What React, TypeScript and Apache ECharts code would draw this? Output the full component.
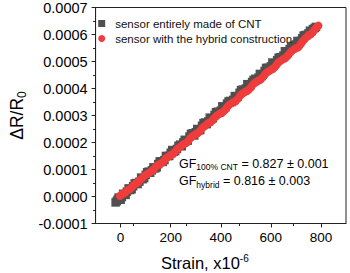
import React, { useEffect, useRef } from "react";
import * as echarts from "echarts";

// Strain (x10^-6) and ΔR/R0 (in units of 1e-6)
const strainCNT = [-20, -15, -12, -8, -5, 0, 5, 10, 15, 20, 25, 32, 38, 44, 50, 56, 62, 68, 75, 82, 88, 94, 100, 106, 112, 118, 125, 131, 138, 144, 150, 156, 162, 168, 175, 181, 188, 194, 200, 206, 212, 218, 225, 231, 238, 244, 250, 256, 262, 268, 275, 281, 288, 294, 300, 306, 312, 318, 325, 331, 338, 344, 350, 356, 362, 368, 375, 381, 388, 394, 400, 406, 412, 418, 425, 431, 438, 444, 450, 456, 462, 468, 475, 481, 488, 494, 500, 506, 512, 518, 525, 531, 538, 544, 550, 556, 562, 568, 575, 581, 588, 594, 600, 606, 612, 618, 625, 631, 638, 644, 650, 656, 662, 668, 675, 681, 688, 694, 700, 706, 712, 718, 725, 731, 738, 744, 750, 756, 762, 768, 775, 780];
const drCNTppm = [-22, -17, -12, -4, -6, -12, -2, 10, 8, 6, 18, 30, 24, 27, 38, 48, 50, 46, 55, 70, 64, 68, 80, 90, 92, 88, 97, 108, 104, 108, 120, 130, 130, 128, 135, 150, 150, 150, 162, 172, 166, 168, 176, 188, 192, 186, 200, 210, 206, 207, 222, 232, 234, 226, 238, 250, 246, 246, 262, 272, 274, 268, 278, 292, 286, 290, 302, 312, 314, 310, 318, 334, 326, 330, 344, 352, 354, 350, 358, 372, 368, 370, 384, 394, 396, 392, 400, 416, 408, 412, 424, 432, 436, 432, 440, 454, 448, 452, 465, 476, 477, 474, 482, 496, 490, 494, 505, 514, 516, 516, 522, 538, 530, 534, 546, 556, 558, 556, 563, 576, 570, 576, 586, 596, 598, 598, 604, 614, 612, 620, 624, 628];

const strainHybrid = [-3, 2, 8, 14, 20, 26, 32, 38, 45, 52, 58, 64, 70, 76, 82, 88, 95, 101, 108, 114, 120, 126, 132, 138, 145, 151, 158, 164, 170, 176, 182, 188, 195, 201, 208, 214, 220, 226, 232, 238, 245, 251, 258, 264, 270, 276, 282, 288, 295, 301, 308, 314, 320, 326, 332, 338, 345, 351, 358, 364, 370, 376, 382, 388, 395, 401, 408, 414, 420, 426, 432, 438, 445, 451, 458, 464, 470, 476, 482, 488, 495, 501, 508, 514, 520, 526, 532, 538, 545, 551, 558, 564, 570, 576, 582, 588, 595, 601, 608, 614, 620, 626, 632, 638, 645, 651, 658, 664, 670, 676, 682, 688, 695, 701, 708, 714, 720, 726, 732, 738, 745, 751, 758, 764, 770, 776, 782, 786, 790];
const drHybridppm = [2, 6, 10, 12, 16, 22, 24, 28, 34, 42, 46, 50, 52, 60, 64, 70, 78, 80, 84, 88, 92, 96, 100, 108, 114, 118, 120, 124, 128, 136, 142, 146, 150, 154, 156, 162, 168, 176, 180, 184, 190, 194, 196, 200, 206, 214, 220, 224, 228, 232, 234, 240, 246, 254, 258, 262, 268, 272, 274, 280, 286, 292, 298, 302, 306, 310, 312, 318, 324, 332, 338, 342, 346, 350, 352, 358, 364, 372, 378, 382, 386, 390, 392, 398, 404, 412, 418, 422, 426, 430, 432, 438, 444, 452, 458, 462, 466, 470, 472, 478, 484, 492, 498, 502, 506, 510, 512, 518, 524, 532, 538, 542, 546, 550, 552, 558, 566, 574, 580, 586, 592, 598, 600, 606, 612, 620, 626, 630, 633];

const seriesNames = ["sensor entirely made of CNT", "sensor with the hybrid construction"];
const xMajorTicks = [0, 200, 400, 600, 800];
const xMinorTicks = [100, 300, 500, 700];
const gfLines = [
  { sub: "100% CNT", text: " = 0.827 ± 0.001" },
  { sub: "hybrid", text: " = 0.816 ± 0.003" },
];

const GRAY = "#505050";
const RED = "#f03c3c";

export default function App() {
  const ref = useRef<HTMLDivElement>(null);
  useEffect(() => {
    if (!ref.current) return;
    const chart = echarts.init(ref.current, null, { renderer: "svg" });
    const cnt = strainCNT.map((x, i) => [x, drCNTppm[i] * 1e-6]);
    const hyb = strainHybrid.map((x, i) => [x, drHybridppm[i] * 1e-6]);
    const font = "Liberation Sans, Arial, sans-serif";
    const grid = { left: 80, right: 4, top: 6, bottom: 49.5 };
    chart.setOption({
      animation: false,
      textStyle: { fontFamily: font },
      grid: [
        { ...grid, show: true, borderColor: "#222", borderWidth: 1, backgroundColor: "transparent" },
        { ...grid, show: false },
      ],
      legend: {
        orient: "vertical",
        left: 93.2,
        top: 12,
        itemWidth: 7,
        itemHeight: 7,
        itemGap: 2,
        textStyle: { fontSize: 11.5, lineHeight: 13, color: "#111", padding: [0, 0, 0, 5], fontFamily: font },
        data: seriesNames,
      },
      xAxis: [
        {
          type: "value",
          gridIndex: 0,
          min: -100,
          max: 900,
          splitLine: { show: false },
          axisLine: { show: true, onZero: false, lineStyle: { color: "#222", width: 1 } },
          axisTick: { show: true, customValues: xMajorTicks, length: 4, lineStyle: { color: "#222" } },
          axisLabel: { customValues: xMajorTicks, fontSize: 13.5, color: "#000", margin: 7, fontFamily: font },
        },
        {
          type: "value",
          gridIndex: 1,
          min: -100,
          max: 900,
          splitLine: { show: false },
          axisLine: { show: false, onZero: false },
          axisTick: { show: true, customValues: xMinorTicks, length: 2.5, lineStyle: { color: "#222" } },
          axisLabel: { show: false },
        },
      ],
      yAxis: [
        {
          type: "value",
          gridIndex: 0,
          min: -0.0001,
          max: 0.0007,
          interval: 0.0001,
          splitLine: { show: false },
          axisLine: { show: true, onZero: false, lineStyle: { color: "#222", width: 1 } },
          axisTick: { show: true, length: 4, lineStyle: { color: "#222" } },
          minorTick: { show: true, splitNumber: 2, length: 2.5, lineStyle: { color: "#222" } },
          minorSplitLine: { show: false },
          axisLabel: {
            fontSize: 14.5,
            color: "#000",
            margin: 8,
            fontFamily: font,
            formatter: (v: number) => (Math.abs(v) < 1e-9 ? "0.0000" : v.toFixed(4)),
          },
          name: "{a|ΔR/R}{b|0}",
          nameLocation: "middle",
          nameGap: 65,
          nameRotate: 90,
          nameTextStyle: {
            rich: {
              a: { fontSize: 17.5, lineHeight: 21, color: "#000", fontFamily: font },
              b: { fontSize: 12, lineHeight: 12, verticalAlign: "bottom", color: "#000", fontFamily: font },
            },
          },
        },
        { type: "value", gridIndex: 1, min: -0.0001, max: 0.0007, show: false },
      ],
      series: [
        {
          name: seriesNames[0],
          type: "scatter",
          xAxisIndex: 0,
          yAxisIndex: 0,
          symbol: "rect",
          symbolSize: 8.5,
          itemStyle: { color: GRAY, opacity: 1 },
          data: cnt,
          z: 2,
        },
        {
          name: seriesNames[1],
          type: "scatter",
          xAxisIndex: 0,
          yAxisIndex: 0,
          symbol: "circle",
          symbolSize: 8,
          itemStyle: { color: RED, opacity: 1 },
          data: hyb,
          z: 3,
        },
      ],
      graphic: [
        {
          type: "text",
          left: 161,
          top: 253,
          style: {
            text: "{a|Strain, x10}{b|-6}",
            rich: {
              a: { fontSize: 16.5, lineHeight: 20, fill: "#000", fontFamily: font },
              b: { fontSize: 10, lineHeight: 10, verticalAlign: "top", fill: "#000", fontFamily: font },
            },
          },
        },
        ...gfLines.map((g, i) => ({
          type: "text",
          left: 179,
          top: 157 + i * 17.5,
          style: {
            text: `{g|GF}{s|${g.sub}}{g|${g.text}}`,
            rich: {
              g: { fontSize: 12.5, lineHeight: 16, fill: "#000", fontFamily: font },
              s: { fontSize: 8.5, lineHeight: 9, verticalAlign: "bottom", fill: "#000", fontFamily: font },
            },
          },
        })),
      ],
    });
    return () => chart.dispose();
  }, []);
  return <div ref={ref} style={{ width: 350, height: 273, position: "absolute", left: 0, top: 0 }} />;
}
